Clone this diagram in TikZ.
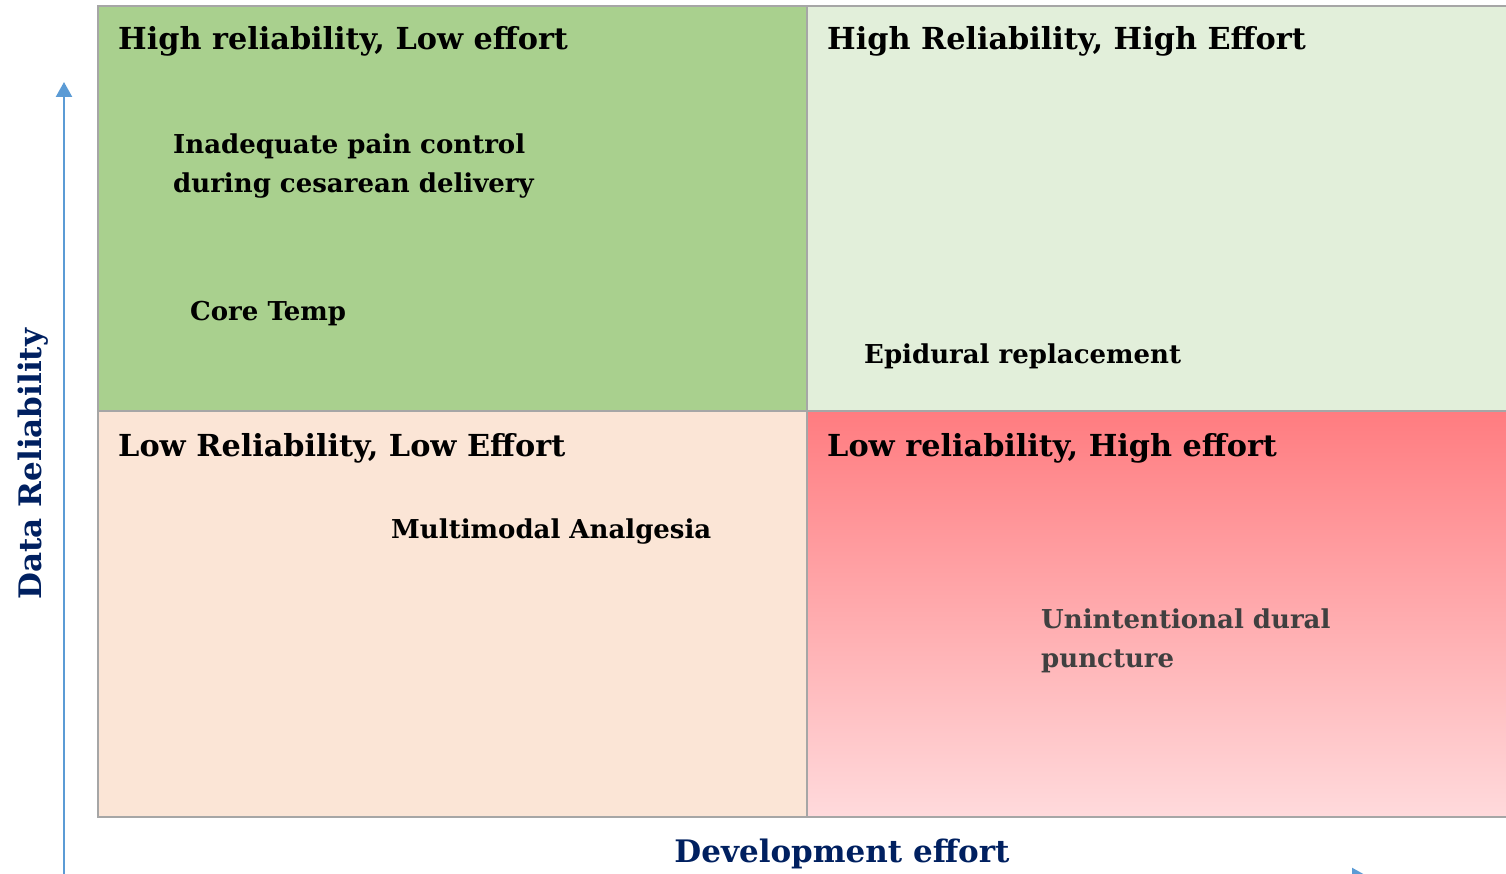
\documentclass[tikz,border=0pt]{standalone}
\usepackage{fontspec}
\setmainfont{DejaVu Serif}
\usetikzlibrary{arrows.meta}
\definecolor{gridgray}{HTML}{A6A6A6}
\definecolor{qgreen}{HTML}{A9D08E}
\definecolor{qpale}{HTML}{E2EFDA}
\definecolor{qpeach}{HTML}{FBE5D6}
\definecolor{qredtop}{HTML}{FF7C80}
\definecolor{qredbot}{HTML}{FFDADC}
\definecolor{axisblue}{HTML}{5B9BD5}
\definecolor{navy}{HTML}{002060}
\definecolor{darktext}{HTML}{404040}
\tikzset{
  quadtitle/.style={anchor=base west, inner sep=0pt, font=\bfseries\fontsize{30.3}{36}\selectfont},
  item/.style={anchor=base west, inner sep=0pt, align=left, font=\bfseries\fontsize{26}{39}\selectfont},
  axislabel/.style={inner sep=0pt, text=navy, font=\bfseries\fontsize{31}{38}\selectfont},
  axisarrow/.style={draw=axisblue, line width=2.4pt, -{Triangle[width=16pt,length=15pt]}},
  cell/.style={draw=gridgray, line width=2.2pt}
}
\begin{document}
\begin{tikzpicture}[x=1pt,y=-1pt]
\useasboundingbox (0,0) rectangle (1506,874);
% quadrant cells
\fill[qgreen] (98,6) rectangle (807,411);
\fill[qpale] (807,6) rectangle (1508,411);
\fill[qpeach] (98,411) rectangle (807,817);
\shade[top color=qredtop, bottom color=qredbot] (807,411) rectangle (1508,817);
\draw[cell] (98,6) rectangle (1510,817);
\draw[cell] (807,6) -- (807,817);
\draw[cell] (98,411) -- (1510,411);
% axes
\coordinate (yfoot) at (64,880);
\coordinate (ytip) at (64,82);
\coordinate (xfoot) at (64,876);
\coordinate (xtip) at (1367,876);
\draw[axisarrow] (yfoot) -- (ytip);
\draw[axisarrow] (xfoot) -- (xtip);
\node[axislabel, rotate=90, anchor=base] (ylab) at (41,464) {Data Reliability};
\node[axislabel, anchor=base] (xlab) at (842,862) {Development effort};
% quadrant titles
\node[quadtitle] (t1) at (118,50) {High reliability, Low effort};
\node[quadtitle] (t2) at (827,50) {High Reliability, High Effort};
\node[quadtitle] (t3) at (118,456) {Low Reliability, Low Effort};
\node[quadtitle] (t4) at (827,456) {Low reliability, High effort};
% items (multi-line nodes sit on the baseline of their last line)
\node[item] (i1) at (173,193) {Inadequate pain control\\during cesarean delivery};
\node[item] (i2) at (190,320) {Core Temp};
\node[item] (i3) at (864,363) {Epidural replacement};
\node[item] (i4) at (391,538) {Multimodal Analgesia};
\node[item, text=darktext] (i5) at (1041,667) {Unintentional dural\\puncture};
\end{tikzpicture}
\end{document}
